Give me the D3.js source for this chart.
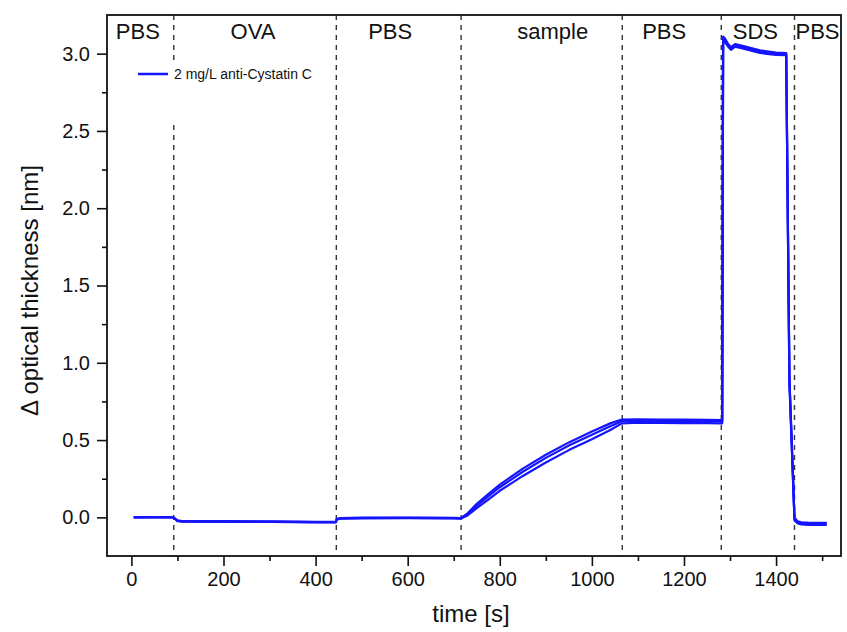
<!DOCTYPE html>
<html><head><meta charset="utf-8">
<script src="https://cdn.jsdelivr.net/npm/d3@7"></script>
<style>
html,body{margin:0;padding:0;background:#fff;}
svg{display:block;font-family:"Liberation Sans",Arial,sans-serif;}
</style></head>
<body>
<svg id="chart" width="847" height="632"></svg>
<script>
// ---- data ----
const times = [5, 50, 90, 93, 100, 110, 200, 300, 400, 444, 446, 455, 500, 600, 700, 716, 730, 750, 775, 800, 850, 900, 950, 1000, 1040, 1065, 1100, 1150, 1200, 1250, 1283, 1285, 1289, 1296, 1302, 1311, 1325, 1344, 1365, 1380, 1400, 1422, 1429, 1440, 1447, 1455, 1470, 1490, 1510];
const rep1 = [0.000, 0.001, 0.000, -0.005, -0.022, -0.026, -0.027, -0.028, -0.031, -0.031, -0.012, -0.006, -0.004, -0.003, -0.005, -0.006, 0.020, 0.075, 0.135, 0.195, 0.295, 0.385, 0.465, 0.535, 0.590, 0.622, 0.625, 0.624, 0.623, 0.622, 0.620, 3.100, 3.090, 3.055, 3.035, 3.055, 3.045, 3.030, 3.015, 3.008, 3.000, 2.997, 0.885, -0.010, -0.030, -0.038, -0.040, -0.040, -0.041];
const rep2 = [0.000, 0.000, -0.001, -0.006, -0.024, -0.028, -0.029, -0.030, -0.033, -0.033, -0.014, -0.008, -0.006, -0.005, -0.007, -0.008, 0.012, 0.060, 0.115, 0.172, 0.268, 0.355, 0.435, 0.505, 0.565, 0.608, 0.612, 0.611, 0.610, 0.610, 0.608, 3.085, 3.075, 3.045, 3.025, 3.045, 3.035, 3.020, 3.005, 2.998, 2.992, 2.990, 0.870, -0.020, -0.040, -0.046, -0.048, -0.047, -0.048];
const rep3 = [0.001, 0.002, 0.001, -0.004, -0.020, -0.024, -0.025, -0.026, -0.029, -0.029, -0.010, -0.004, -0.002, -0.001, -0.003, -0.004, 0.026, 0.088, 0.150, 0.212, 0.315, 0.405, 0.485, 0.555, 0.608, 0.633, 0.634, 0.633, 0.632, 0.631, 0.630, 3.110, 3.098, 3.062, 3.042, 3.062, 3.052, 3.037, 3.022, 3.015, 3.007, 3.004, 0.900, -0.002, -0.026, -0.032, -0.034, -0.035, -0.036];
const series = [rep1, rep2, rep3];
const legendLabel = "2 mg/L anti-Cystatin C";
const phaseBounds = [92, 445, 716, 1066, 1281, 1440];
const phaseLabels = [
  {t: 14, label: "PBS"}, {t: 264, label: "OVA"}, {t: 562, label: "PBS"},
  {t: 915, label: "sample"}, {t: 1157, label: "PBS"}, {t: 1355, label: "SDS"}, {t: 1490, label: "PBS"}
];
const xMajor = [0, 200, 400, 600, 800, 1000, 1200, 1400];
const xMinor = [100, 300, 500, 700, 900, 1100, 1300, 1500];
const yMajor = [0.0, 0.5, 1.0, 1.5, 2.0, 2.5, 3.0];
const yMinor = [0.25, 0.75, 1.25, 1.75, 2.25, 2.75];

// ---- chart ----
const svg = d3.select("#chart");
const L = 107, R = 841, T = 15, B = 556;
const x = d3.scaleLinear().domain([-53, 1541]).range([L, R]);
const y = d3.scaleLinear().domain([-0.25, 3.25]).range([B, T]);

svg.append("rect").attr("width", 847).attr("height", 632).attr("fill", "#fff");

// phase dividers
svg.append("g").selectAll("line").data(phaseBounds).join("line")
  .attr("x1", d => x(d)).attr("x2", d => x(d))
  .attr("y1", T).attr("y2", B)
  .attr("stroke", "#333").attr("stroke-width", 1.4)
  .attr("stroke-dasharray", "5,5");

// phase labels
svg.append("g").selectAll("text").data(phaseLabels).join("text")
  .attr("x", d => x(d.t)).attr("y", 39)
  .attr("text-anchor", "middle").attr("font-size", 22).attr("fill", "#111")
  .text(d => d.label);

// legend (white box hiding divider)
const lg = svg.append("g");
lg.append("rect").attr("x", 132).attr("y", 63).attr("width", 190).attr("height", 60).attr("fill", "#fff");
lg.append("line").attr("x1", 138).attr("x2", 168).attr("y1", 74).attr("y2", 74)
  .attr("stroke", "#1414ff").attr("stroke-width", 2.5);
lg.append("text").attr("x", 174).attr("y", 79).attr("font-size", 14).attr("fill", "#111").text(legendLabel);

// data lines
const line = d3.line().x((d, i) => x(times[i])).y(d => y(d));
svg.append("g").selectAll("path").data(series).join("path")
  .attr("d", d => line(d))
  .attr("fill", "none").attr("stroke", "#1414ff").attr("stroke-width", 2.2)
  .attr("stroke-linejoin", "round");

// axes
const xAxisMaj = d3.axisBottom(x).tickValues(xMajor).tickSize(10).tickPadding(6).tickFormat(d3.format("d"));
const xAxisMin = d3.axisBottom(x).tickValues(xMinor).tickSize(5).tickFormat("");
const yAxisMaj = d3.axisLeft(y).tickValues(yMajor).tickSize(10).tickPadding(7).tickFormat(d3.format(".1f"));
const yAxisMin = d3.axisLeft(y).tickValues(yMinor).tickSize(5).tickFormat("");

function style(g) {
  g.select(".domain").remove();
  g.selectAll(".tick line").attr("stroke", "#111").attr("stroke-width", 1.6);
  g.selectAll(".tick text").attr("font-size", 20).attr("fill", "#111")
    .attr("font-family", "'Liberation Sans', Arial, sans-serif");
}
svg.append("g").attr("transform", `translate(0,${B})`).call(xAxisMaj).call(style);
svg.append("g").attr("transform", `translate(0,${B})`).call(xAxisMin).call(style);
svg.append("g").attr("transform", `translate(${L},0)`).call(yAxisMaj).call(style);
svg.append("g").attr("transform", `translate(${L},0)`).call(yAxisMin).call(style);

// frame
svg.append("rect").attr("x", L).attr("y", T).attr("width", R - L).attr("height", B - T)
  .attr("fill", "none").attr("stroke", "#111").attr("stroke-width", 1.8);

// axis titles
svg.append("text").attr("x", (L + R) / 2 - 3).attr("y", 622).attr("text-anchor", "middle")
  .attr("font-size", 24).attr("fill", "#111").text("time [s]");
svg.append("text").attr("transform", `translate(38,${(T + B) / 2 + 5}) rotate(-90)`)
  .attr("text-anchor", "middle").attr("font-size", 24).attr("fill", "#111")
  .text("\u0394 optical thickness [nm]");
</script>
</body></html>
